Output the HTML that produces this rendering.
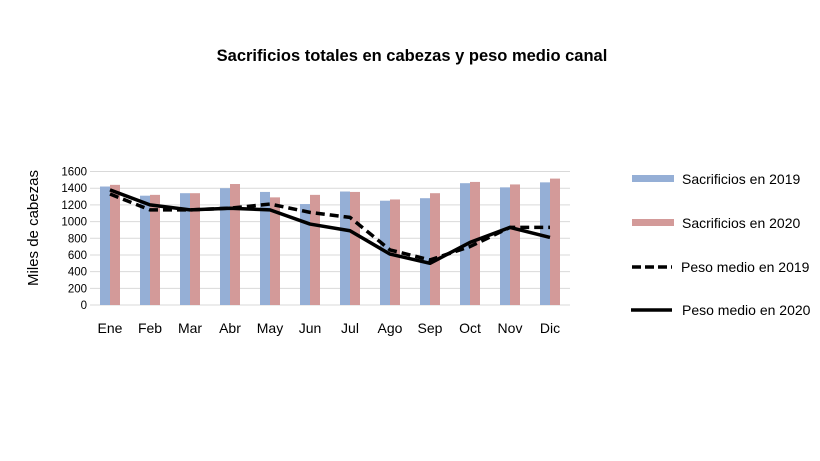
<!DOCTYPE html>
<html><head><meta charset="utf-8"><style>
html,body{margin:0;padding:0;background:#fff;width:820px;height:461px;overflow:hidden}
svg{display:block;font-family:"Liberation Sans",Arial,sans-serif}
</style></head><body>
<svg id="chart" width="820" height="461" viewBox="0 0 820 461">
<text x="412" y="61" text-anchor="middle" font-size="16.5" font-weight="bold" fill="#000">Sacrificios totales en cabezas y peso medio canal</text>
<text transform="translate(38,228) rotate(-90)" text-anchor="middle" font-size="15" fill="#000">Miles de cabezas</text>
<g id="grid"></g>
<g id="yticks"></g>
<g id="bars"></g>
<g id="lines"></g>
<g id="xticks"></g>
<g>
<g><rect x="632" y="175" width="42" height="7" fill="#95afd6"/><text x="682" y="184" font-size="14">Sacrificios en 2019</text></g>
<g><rect x="632" y="219" width="42" height="7" fill="#d39a99"/><text x="682" y="228" font-size="14">Sacrificios en 2020</text></g>
<g><line x1="632" y1="267" x2="672" y2="267" stroke="#000" stroke-width="3.5" stroke-dasharray="9,4"/><text x="681" y="272" font-size="14">Peso medio en 2019</text></g>
<g><line x1="631" y1="310" x2="672" y2="310" stroke="#000" stroke-width="3.5"/><text x="682" y="315" font-size="14">Peso medio en 2020</text></g>
</g>
</svg>
<script>
const categories=["Ene","Feb","Mar","Abr","May","Jun","Jul","Ago","Sep","Oct","Nov","Dic"];
const sacrificios2019=[1420,1310,1340,1400,1355,1210,1360,1250,1280,1460,1410,1470];
const sacrificios2020=[1440,1320,1340,1450,1290,1320,1355,1265,1340,1475,1445,1515];
const peso2019=[1330,1140,1140,1160,1210,1110,1050,660,540,700,930,930];
const peso2020=[1380,1200,1140,1160,1140,970,890,610,500,750,930,810];
const yTicks=[0,200,400,600,800,1000,1200,1400,1600];
const NS="http://www.w3.org/2000/svg";
const x0=90,slot=40,y0=305,yTop=171.5,ymax=1600;
const xc=i=>x0+slot*(i+0.5);
const y=v=>y0-(v/ymax)*(y0-yTop);
function mk(tag,attrs,parent){const e=document.createElementNS(NS,tag);for(const k in attrs)e.setAttribute(k,attrs[k]);document.getElementById(parent).appendChild(e);return e;}
yTicks.forEach(t=>{
 const l=mk('line',{x1:x0,x2:570,y1:y(t),y2:y(t),stroke:'#d9d9d9','stroke-width':1},'grid');
 
 
 const tx=mk('text',{x:87,y:y(t)+4,'text-anchor':'end','font-size':11.5,fill:'#000'},'yticks');
 tx.textContent=t;
 
 
});
categories.forEach((c,i)=>{
 const b1=mk('rect',{x:xc(i)-10,y:y(sacrificios2019[i]),width:10,height:y0-y(sacrificios2019[i]),fill:'#95afd6'},'bars');
 
 
 const b2=mk('rect',{x:xc(i),y:y(sacrificios2020[i]),width:10,height:y0-y(sacrificios2020[i]),fill:'#d39a99'},'bars');
 
 
 const t=mk('text',{x:xc(i),y:333,'text-anchor':'middle','font-size':14,fill:'#000'},'xticks');
 t.textContent=c;
 
 
});
const p1=mk('polyline',{points:peso2019.map((v,i)=>xc(i)+','+y(v)).join(' '),fill:'none',stroke:'#000','stroke-width':3.5,'stroke-dasharray':'9,5','stroke-linejoin':'round'},'lines');


const p2=mk('polyline',{points:peso2020.map((v,i)=>xc(i)+','+y(v)).join(' '),fill:'none',stroke:'#000','stroke-width':3.5,'stroke-linejoin':'round'},'lines');


</script>
</body></html>
